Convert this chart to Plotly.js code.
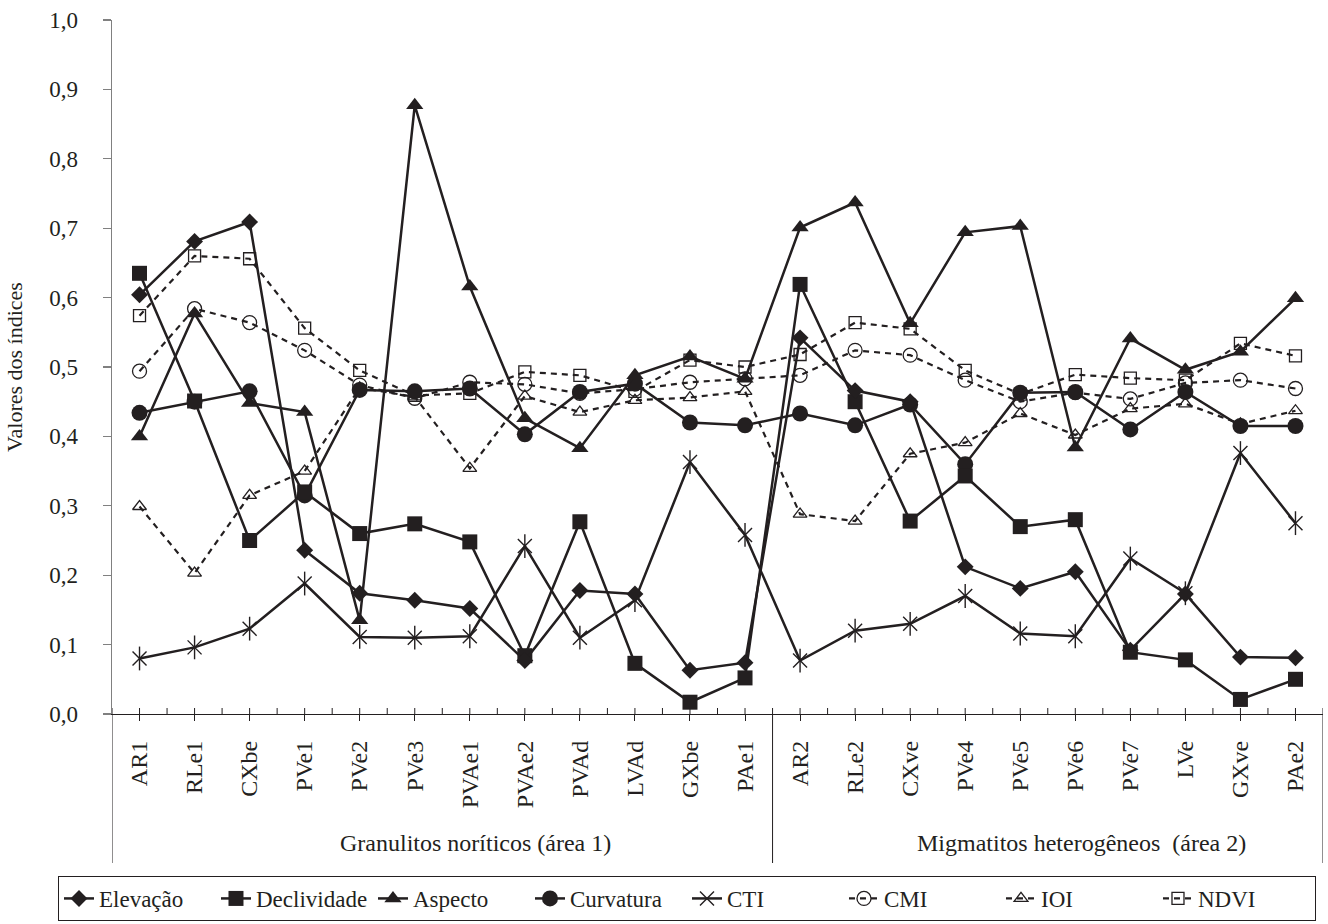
<!DOCTYPE html>
<html>
<head>
<meta charset="utf-8">
<script src="https://cdn.plot.ly/plotly-3.0.1.min.js"></script>
<style>
html,body{margin:0;padding:0;background:#fff;}
#chart{width:1328px;height:924px;}
</style>
</head>
<body>
<div id="chart"></div>
<script>
const categories = ["AR1","RLe1","CXbe","PVe1","PVe2","PVe3","PVAe1","PVAe2","PVAd","LVAd","GXbe","PAe1",
                    "AR2","RLe2","CXve","PVe4","PVe5","PVe6","PVe7","LVe","GXve","PAe2"];
const groupLabels = ["Granulitos noríticos (área 1)", "Migmatitos heterogêneos  (área 2)"];

const elevacao    = [0.604,0.681,0.709,0.236,0.174,0.164,0.152,0.077,0.178,0.173,0.063,0.074,
                     0.542,0.466,0.450,0.212,0.181,0.205,0.092,0.173,0.082,0.081];
const declividade = [0.635,0.451,0.250,0.320,0.260,0.274,0.248,0.084,0.277,0.073,0.017,0.052,
                     0.619,0.450,0.278,0.343,0.270,0.280,0.089,0.078,0.021,0.050];
const aspecto     = [0.400,0.577,0.448,0.435,0.135,0.877,0.616,0.426,0.383,0.488,0.515,0.483,
                     0.701,0.737,0.563,0.694,0.703,0.384,0.541,0.496,0.522,0.599];
const curvatura   = [0.434,0.450,0.465,0.315,0.467,0.465,0.469,0.403,0.464,0.476,0.420,0.416,
                     0.433,0.416,0.446,0.360,0.463,0.464,0.410,0.464,0.415,0.415];
const cti         = [0.080,0.096,0.123,0.188,0.111,0.110,0.112,0.242,0.110,0.164,0.363,0.258,
                     0.077,0.120,0.130,0.170,0.116,0.112,0.224,0.174,0.376,0.275];
const cmi         = [0.494,0.584,0.564,0.524,0.474,0.455,0.478,0.475,0.462,0.468,0.478,0.483,
                     0.488,0.524,0.517,0.481,0.450,0.463,0.454,0.477,0.481,0.469];
const ioi         = [0.299,0.203,0.315,0.350,0.470,0.457,0.354,0.458,0.435,0.452,0.456,0.465,
                     0.288,0.278,0.375,0.391,0.433,0.402,0.440,0.447,0.418,0.437];
const ndvi        = [0.574,0.660,0.656,0.556,0.495,0.459,0.462,0.493,0.488,0.465,0.510,0.500,
                     0.518,0.564,0.555,0.495,0.461,0.489,0.484,0.481,0.534,0.516];

const INK = '#231f20';
const FONT = '"Liberation Serif", "Times New Roman", Times, serif';
const DASH = '6px,5px';

function solid(name, y, symbol, size, rank) {
  return {x: categories, y: y, name: name, type: 'scatter', mode: 'lines+markers',
          legendrank: rank,
          line: {color: INK, width: 2.5},
          marker: {symbol: symbol, size: size, color: INK, line: {width: 0}}};
}
function dashed(name, y, symbol, size, rank) {
  return {x: categories, y: y, name: name, type: 'scatter', mode: 'lines+markers',
          legendrank: rank,
          line: {color: INK, width: 2.2, dash: DASH},
          marker: {symbol: symbol, size: size, color: INK, line: {width: 1.3, color: INK}}};
}

const traces = [
  dashed('CMI', cmi, 'circle-open', 14, 6),
  dashed('IOI', ioi, 'triangle-up-open', 12, 7),
  dashed('NDVI', ndvi, 'square-open', 12, 8),
  {x: categories, y: cti, name: 'CTI', type: 'scatter', mode: 'lines+markers', legendrank: 5,
   legendgroup: 'cti',
   line: {color: INK, width: 2.5},
   marker: {symbol: 'x-thin-open', size: 14, color: INK, line: {width: 1.4, color: INK}}},
  {x: categories, y: cti, name: 'CTI', type: 'scatter', mode: 'markers', showlegend: false,
   legendgroup: 'cti', hoverinfo: 'skip',
   marker: {symbol: 'line-ns-open', size: 17, color: INK, line: {width: 1.4, color: INK}}},
  solid('Curvatura', curvatura, 'circle', 16, 4),
  solid('Aspecto', aspecto, 'triangle-up', 15, 3),
  solid('Declividade', declividade, 'square', 15, 2),
  solid('Elevação', elevacao, 'diamond', 13, 1)
];

// tick marks crossing the category axis and the group separators
const n = categories.length;
const shapes = [];
for (let i = 0; i < n; i++) {
  shapes.push({type: 'line', xref: 'x', yref: 'y', ysizemode: 'pixel', yanchor: 0,
               x0: i, x1: i, y0: 0, y1: 6, line: {color: INK, width: 1}});
}
for (let i = 0; i <= n; i++) {
  shapes.push({type: 'line', xref: 'x', yref: 'y', ysizemode: 'pixel', yanchor: 0,
               x0: i - 0.5, x1: i - 0.5, y0: -6, y1: 6, line: {color: INK, width: 1}});
}
[-0.5, 11.5, n - 0.5].forEach(function (xv) {
  shapes.push({type: 'line', xref: 'x', yref: 'paper', x0: xv, x1: xv, y0: 0, y1: -0.2147,
               line: {color: INK, width: 1}});
});

const annotations = [
  {text: groupLabels[0], xref: 'x', yref: 'paper', x: 6.1, y: -0.186, showarrow: false,
   xanchor: 'center', yanchor: 'middle', font: {family: FONT, size: 24, color: INK}},
  {text: groupLabels[1], xref: 'x', yref: 'paper', x: 17.12, y: -0.186, showarrow: false,
   xanchor: 'center', yanchor: 'middle', font: {family: FONT, size: 24, color: INK}}
];

const layout = {
  width: 1328, height: 924,
  margin: {l: 112, r: 5, t: 20, b: 210, autoexpand: false},
  paper_bgcolor: '#fff', plot_bgcolor: '#fff',
  separators: ',.',
  font: {family: FONT, color: INK, size: 22},
  showlegend: true,
  legend: {orientation: 'h', x: -0.0446, xanchor: 'left', y: -0.2334, yanchor: 'top',
           bordercolor: INK, borderwidth: 1, bgcolor: '#fff',
           font: {family: FONT, size: 23, color: INK},
           entrywidth: 112, entrywidthmode: 'pixels', traceorder: 'normal'},
  xaxis: {type: 'category', range: [-0.5, n - 0.5], showgrid: false, zeroline: false,
          showline: true, linecolor: INK, linewidth: 1.2,
          ticks: 'outside', ticklen: 6, tickcolor: INK, tickwidth: 1,
          tickangle: -90, tickfont: {family: FONT, size: 24, color: INK},
          ticklabelstandoff: 10, automargin: false, fixedrange: true},
  yaxis: {range: [0, 1], dtick: 0.1, tick0: 0, tickformat: '.1f', showgrid: false, zeroline: false,
          showline: true, linecolor: '#808080', linewidth: 1.5,
          ticks: 'outside', ticklen: 8, tickcolor: '#808080', tickwidth: 1.2,
          tickfont: {family: FONT, size: 23, color: INK},
          ticklabelstandoff: 20, automargin: false,
          title: {text: 'Valores dos índices', font: {family: FONT, size: 22, color: INK}, standoff: 20}},
  shapes: shapes,
  annotations: annotations
};

Plotly.newPlot('chart', traces, layout, {displayModeBar: false, staticPlot: true});
</script>
</body>
</html>
